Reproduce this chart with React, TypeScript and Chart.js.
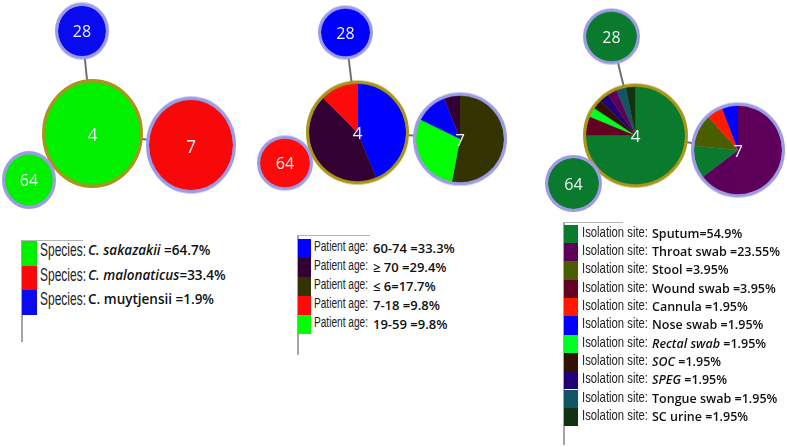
import React, { useEffect, useMemo, useRef } from "react";
import { Chart, registerables } from "chart.js";
Chart.register(...registerables);

// ---------- Panel 1: species ----------
const speciesNames = ["C. sakazakii", "C. malonaticus", "C. muytjensii"];
const speciesShares = [" =64.7%", "=33.4%", " =1.9%"];
const speciesItalic = [true, true, false];
const speciesColors = ["#00f000", "#f80808", "#0a0af0"];
const sp4Cats = [0];
const sp4Counts = [32];
const sp7Cats = [1];
const sp7Counts = [17];
const sp28Cats = [2];
const sp28Counts = [1];
const sp64Cats = [0];
const sp64Counts = [1];

// ---------- Panel 2: patient age ----------
const ageNames = ["60-74", "\u2265 70", "\u2264 6", "7-18", "19-59"];
const ageShares = [" =33.3%", " =29.4%", "=17.7%", " =9.8%", " =9.8%"];
const ageItalic = [false, false, false, false, false];
const ageColors = ["#0000ff", "#330033", "#333300", "#ff0a0a", "#00ff00"];
const age4Cats = [0, 1, 3];
const age4Counts = [14, 14, 4];
const age7Cats = [2, 4, 0, 1];
const age7Counts = [9, 5, 2, 1];
const age28Cats = [0];
const age28Counts = [1];
const age64Cats = [3];
const age64Counts = [1];

// ---------- Panel 3: isolation site ----------
const siteNames = ["Sputum", "Throat swab", "Stool", "Wound swab", "Cannula", "Nose swab", "Rectal swab", "SOC", "SPEG", "Tongue swab", "SC urine"];
const siteShares = ["=54.9%", " =23.55%", " =3.95%", " =3.95%", " =1.95%", " =1.95%", " =1.95%", " =1.95%", " =1.95%", " =1.95%", " =1.95%"];
const siteItalic = [false, false, false, false, false, false, true, true, true, false, false];
const siteColors = ["#0a7a2c", "#5e005a", "#4a5e00", "#640022", "#ff1a00", "#0000ff", "#00ff22", "#331100", "#220077", "#115566", "#113311"];
const site4Cats = [0, 3, 6, 7, 8, 1, 9, 10];
const site4Counts = [24, 2, 1, 1, 1, 1, 1, 1];
const site7Cats = [1, 0, 2, 4, 5];
const site7Counts = [11, 2, 2, 1, 1];
const site28Cats = [0];
const site28Counts = [1];
const site64Cats = [0];
const site64Counts = [1];

const RING = "#9c9ce6";
const RING_CENTER = "#a8961a";
const LABEL_FONT = '"Liberation Sans", Arial, sans-serif';

type NodeProps = {
  cx: number; cy: number; w: number; h: number;
  cats: number[]; counts: number[]; palette: string[];
  ring: string; label: string; labelColor: string; fontSize: number;
};

function PieNode({ cx, cy, w, h, cats, counts, palette, ring, label, labelColor, fontSize }: NodeProps) {
  const ref = useRef<HTMLCanvasElement>(null);
  const bw = 3;
  const d = w - 2 * bw;
  useEffect(() => {
    const chart = new Chart(ref.current!, {
      type: "pie",
      data: {
        labels: cats.map((c) => String(c)),
        datasets: [{ data: counts, backgroundColor: cats.map((c) => palette[c]), borderWidth: 0 }],
      },
      options: {
        responsive: false,
        animation: false,
        events: [],
        layout: { padding: 0 },
        plugins: { legend: { display: false }, tooltip: { enabled: false } },
      },
    });
    return () => chart.destroy();
  }, []);
  return (
    <div
      style={{
        position: "absolute",
        left: cx - w / 2,
        top: cy - w / 2,
        width: w,
        height: w,
        borderRadius: "50%",
        border: `${bw}px solid ${ring}`,
        boxSizing: "border-box",
        overflow: "hidden",
        background: ring,
        transform: `scaleY(${h / w})`,
      }}
    >
      <canvas ref={ref} width={d} height={d} style={{ display: "block", width: d, height: d }} />
      <div
        style={{
          position: "absolute",
          left: 0,
          top: 0,
          width: d,
          height: d,
          display: "flex",
          alignItems: "center",
          justifyContent: "center",
          color: labelColor,
          font: `${fontSize}px "Open Sans", sans-serif`,
          lineHeight: 1,
        }}
      >
        {label}
      </div>
    </div>
  );
}

function measure(text: string, size: number): number {
  const c = document.createElement("canvas");
  const ctx = c.getContext("2d");
  if (!ctx) return text.length * size * 0.5;
  ctx.font = `${size}px ${LABEL_FONT}`;
  return ctx.measureText(text).width;
}

type LegendProps = {
  lineX: number; lineTop: number; lineBottom: number; topLineEnd: number;
  swatchW: number; rowTop: number; rowH: number;
  colors: string[]; names: string[]; shares: string[]; italic: boolean[];
  prefix: string; labelX: number; labelSize: number; labelWidth: number; labelScaleY: number;
  valueX: number; valueSize: number;
};

function Legend(p: LegendProps) {
  const sx = useMemo(() => p.labelWidth / measure(p.prefix, p.labelSize), [p.prefix, p.labelSize, p.labelWidth]);
  return (
    <>
      <div style={{ position: "absolute", left: p.lineX - 1, top: p.lineTop, width: 2, height: p.lineBottom - p.lineTop, background: "#a4a4ac" }} />
      <div style={{ position: "absolute", left: p.lineX, top: p.lineTop, width: p.topLineEnd - p.lineX, height: 1, background: "#b4b4b4" }} />
      {p.colors.map((c, i) => (
        <React.Fragment key={i}>
          <div style={{ position: "absolute", left: p.lineX, top: p.rowTop + i * p.rowH, width: p.swatchW, height: p.rowH, background: c }} />
          <div
            style={{
              position: "absolute",
              left: p.labelX,
              top: p.rowTop + i * p.rowH,
              height: p.rowH,
              lineHeight: `${p.rowH}px`,
              whiteSpace: "nowrap",
              font: `${p.labelSize}px ${LABEL_FONT}`,
              color: "#222",
              transform: `scale(${sx}, ${p.labelScaleY})`,
              transformOrigin: "left center",
            }}
          >
            {p.prefix}
          </div>
          <div
            style={{
              position: "absolute",
              left: p.valueX,
              top: p.rowTop + i * p.rowH,
              height: p.rowH,
              lineHeight: `${p.rowH}px`,
              whiteSpace: "pre",
              font: `600 ${p.valueSize}px "Open Sans", sans-serif`,
              color: "#111",
            }}
          >
            <span style={{ fontStyle: p.italic[i] ? "italic" : "normal" }}>{p.names[i]}</span>
            {p.shares[i]}
          </div>
        </React.Fragment>
      ))}
    </>
  );
}

type Pt = [number, number];
function Edges({ pairs }: { pairs: [Pt, Pt][] }) {
  return (
    <svg width={787} height={447} style={{ position: "absolute", left: 0, top: 0 }}>
      {pairs.map(([a, b], i) => (
        <line key={i} x1={a[0]} y1={a[1]} x2={b[0]} y2={b[1]} stroke="#707070" strokeWidth={2} />
      ))}
    </svg>
  );
}

export default function App() {
  // node layout (centres, px)
  const p1: Record<string, Pt> = { n28: [82, 30.5], n4: [92.5, 133.5], n7: [191, 144.5], n64: [29, 180] };
  const p2: Record<string, Pt> = { n28: [345.5, 32], n4: [357.5, 132], n7: [460, 138.5], n64: [285, 162.5] };
  const p3: Record<string, Pt> = { n28: [611.5, 36], n4: [635.5, 135], n7: [738, 149.5], n64: [573.5, 183.5] };
  const edges: [Pt, Pt][] = [];
  for (const p of [p1, p2, p3]) {
    edges.push([p.n28, p.n4], [p.n4, p.n7], [p.n4, p.n64]);
  }
  const lbl = "#f2f2fa";
  return (
    <div style={{ position: "fixed", left: 0, top: 0, width: 787, height: 447, background: "#fff", overflow: "hidden" }}>
      <Edges pairs={edges} />
      {/* Panel 1 */}
      <PieNode cx={p1.n28[0]} cy={p1.n28[1]} w={54} h={57} cats={sp28Cats} counts={sp28Counts} palette={speciesColors} ring={RING} label="28" labelColor={lbl} fontSize={16} />
      <PieNode cx={p1.n4[0]} cy={p1.n4[1]} w={101} h={109} cats={sp4Cats} counts={sp4Counts} palette={speciesColors} ring={RING_CENTER} label="4" labelColor={lbl} fontSize={17} />
      <PieNode cx={p1.n7[0]} cy={p1.n7[1]} w={90} h={97} cats={sp7Cats} counts={sp7Counts} palette={speciesColors} ring={RING} label="7" labelColor={lbl} fontSize={17} />
      <PieNode cx={p1.n64[0]} cy={p1.n64[1]} w={54} h={58} cats={sp64Cats} counts={sp64Counts} palette={speciesColors} ring={RING} label="64" labelColor={lbl} fontSize={16} />
      {/* Panel 2 */}
      <PieNode cx={p2.n28[0]} cy={p2.n28[1]} w={55} h={54} cats={age28Cats} counts={age28Counts} palette={ageColors} ring={RING} label="28" labelColor={lbl} fontSize={16} />
      <PieNode cx={p2.n4[0]} cy={p2.n4[1]} w={103} h={104} cats={age4Cats} counts={age4Counts} palette={ageColors} ring={RING_CENTER} label="4" labelColor={lbl} fontSize={17} />
      <PieNode cx={p2.n7[0]} cy={p2.n7[1]} w={94} h={93} cats={age7Cats} counts={age7Counts} palette={ageColors} ring={RING} label="7" labelColor={lbl} fontSize={17} />
      <PieNode cx={p2.n64[0]} cy={p2.n64[1]} w={56} h={55} cats={age64Cats} counts={age64Counts} palette={ageColors} ring={RING} label="64" labelColor={lbl} fontSize={16} />
      {/* Panel 3 */}
      <PieNode cx={p3.n28[0]} cy={p3.n28[1]} w={57} h={56} cats={site28Cats} counts={site28Counts} palette={siteColors} ring={RING} label="28" labelColor={lbl} fontSize={16} />
      <PieNode cx={p3.n4[0]} cy={p3.n4[1]} w={105} h={104} cats={site4Cats} counts={site4Counts} palette={siteColors} ring={RING_CENTER} label="4" labelColor={lbl} fontSize={17} />
      <PieNode cx={p3.n7[0]} cy={p3.n7[1]} w={94} h={95} cats={site7Cats} counts={site7Counts} palette={siteColors} ring={RING} label="7" labelColor="#f4e4f4" fontSize={17} />
      <PieNode cx={p3.n64[0]} cy={p3.n64[1]} w={57} h={57} cats={site64Cats} counts={site64Counts} palette={siteColors} ring={RING} label="64" labelColor={lbl} fontSize={16} />

      <Legend lineX={22} lineTop={240} lineBottom={342} topLineEnd={83} swatchW={15} rowTop={241} rowH={24.7}
        colors={speciesColors} names={speciesNames} shares={speciesShares} italic={speciesItalic}
        prefix="Species:" labelX={40} labelSize={16.5} labelWidth={46} labelScaleY={1.1} valueX={88} valueSize={13.5} />
      <Legend lineX={298} lineTop={235} lineBottom={355} topLineEnd={370} swatchW={13} rowTop={239} rowH={19}
        colors={ageColors} names={ageNames} shares={ageShares} italic={ageItalic}
        prefix="Patient age:" labelX={314} labelSize={13.5} labelWidth={54} labelScaleY={1.1} valueX={373} valueSize={13} />
      <Legend lineX={564} lineTop={222} lineBottom={445} topLineEnd={623} swatchW={14} rowTop={224.8} rowH={18.3}
        colors={siteColors} names={siteNames} shares={siteShares} italic={siteItalic}
        prefix="Isolation site:" labelX={582} labelSize={13.2} labelWidth={66} labelScaleY={1.1} valueX={652} valueSize={12.5} />
    </div>
  );
}
